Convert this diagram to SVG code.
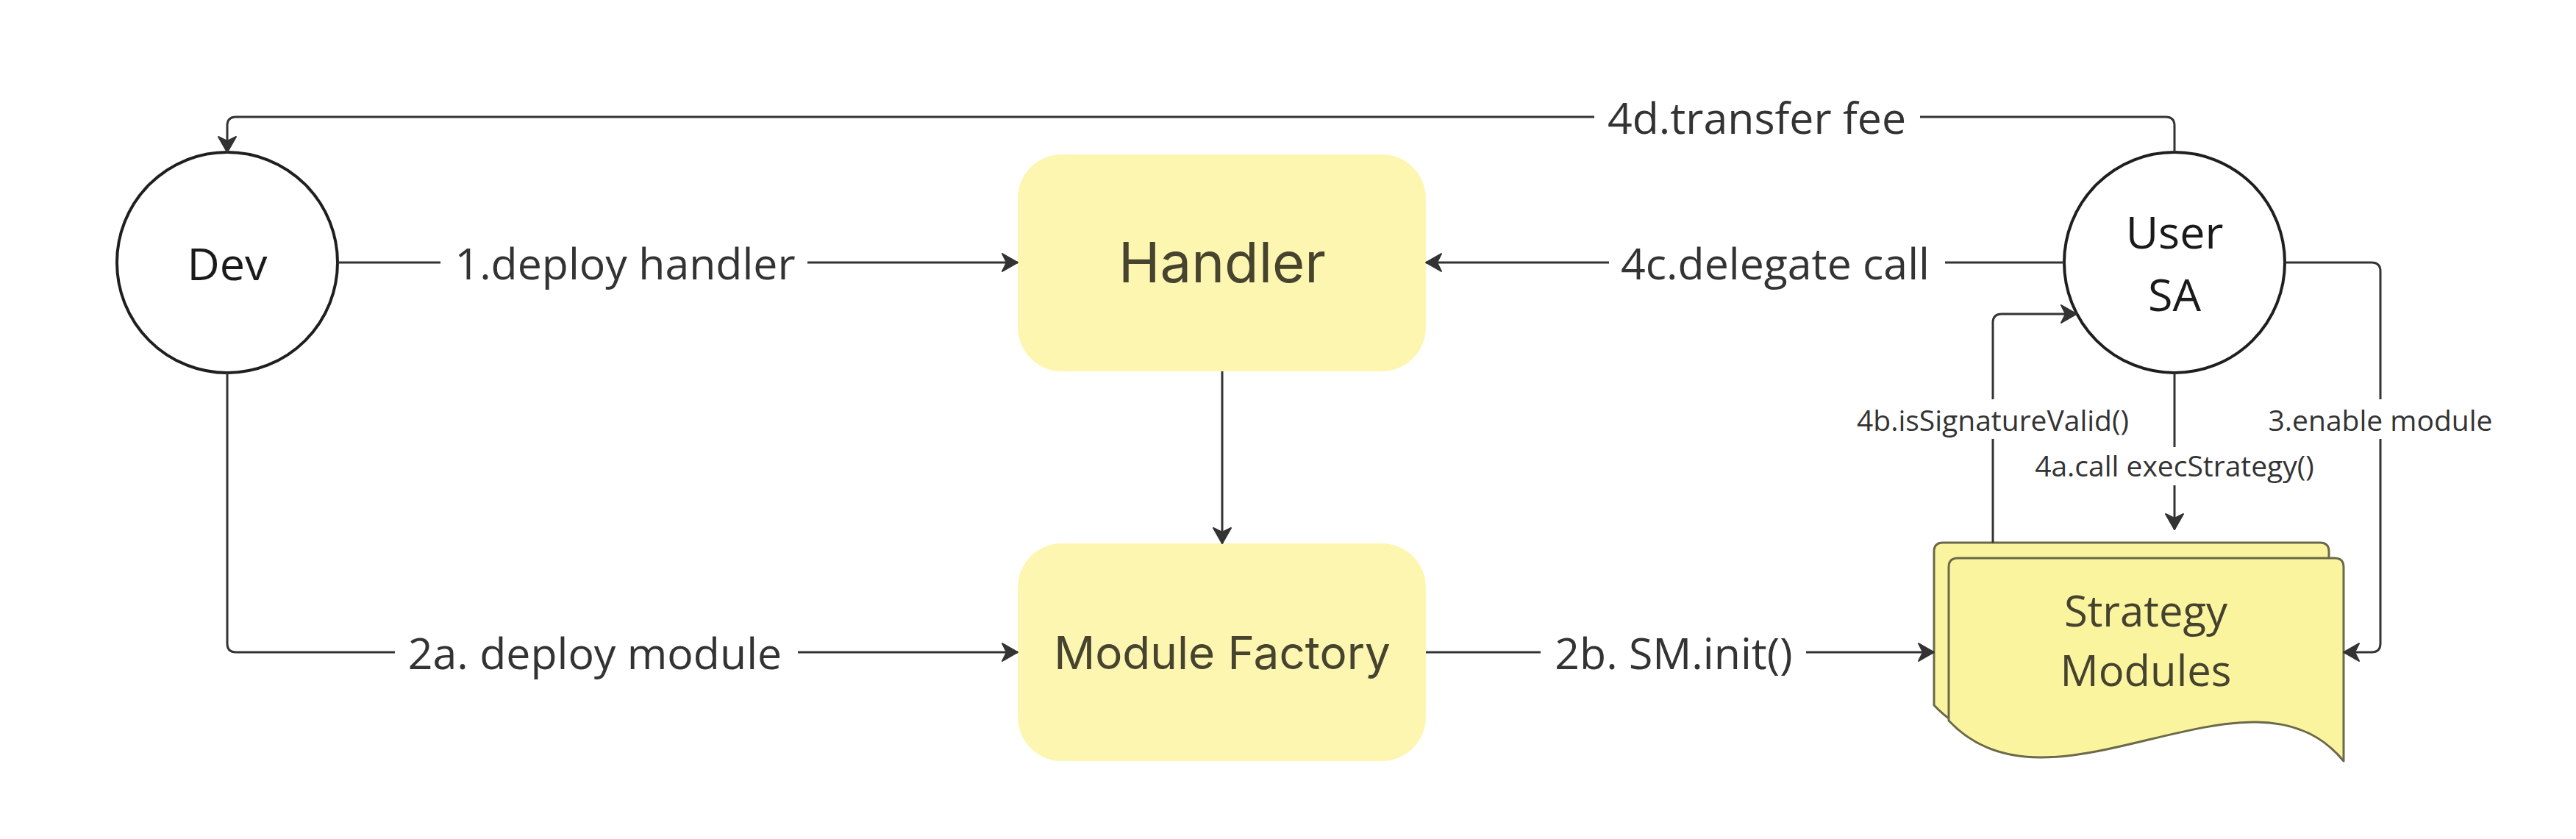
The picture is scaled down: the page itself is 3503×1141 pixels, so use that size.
<svg xmlns="http://www.w3.org/2000/svg" width="3503" height="1141" viewBox="0 0 3503 1141">
  <style>
    .conn { fill: none; stroke: #333333; stroke-width: 3; stroke-linejoin: round; }
    .lbl { font-family: "Open Sans", "Liberation Sans", sans-serif; fill: #333333; text-anchor: middle; }
    .big { font-size: 59px; }
    .small { font-size: 39px; }
    .circ { fill: #ffffff; stroke: #1f1f1f; stroke-width: 4; }
    .ctext { font-family: "Open Sans", "Liberation Sans", sans-serif; font-size: 61px; fill: #1a1a1a; text-anchor: middle; }
    .box { fill: #fdf6b1; }
    .btext { font-family: Inter, "Liberation Sans", sans-serif; fill: #46432f; text-anchor: middle; }
    .doc { fill: #fbf49f; stroke: #6b6949; stroke-width: 3; stroke-linejoin: round; }
    .dtext { font-family: "Open Sans", "Liberation Sans", sans-serif; font-size: 58px; fill: #45432f; text-anchor: middle; }
  </style>
  <defs>
    <marker id="arrow" markerUnits="userSpaceOnUse" markerWidth="26" markerHeight="28" refX="23" refY="14" orient="auto" viewBox="0 0 26 28">
      <path d="M2,2 L23,14 L2,26 L8,14 Z" fill="#333333" stroke="#333333" stroke-width="2" stroke-linejoin="round"/>
    </marker>
  </defs>
  <rect width="3503" height="1141" fill="#ffffff"/>

  <g id="dev">
    <circle class="circ" cx="309" cy="357" r="150"/>
    <text class="ctext" x="309" y="381">Dev</text>
  </g>

  <g id="handler">
    <rect class="box" x="1384" y="210" width="555" height="295" rx="60" ry="60"/>
    <text class="btext" x="1662" y="384" font-size="76">Handler</text>
  </g>

  <g id="module-factory">
    <rect class="box" x="1384" y="739" width="555" height="296" rx="60" ry="60"/>
    <text class="btext" x="1662" y="910" font-size="62">Module Factory</text>
  </g>

  <g id="user-sa">
    <circle class="circ" cx="2957" cy="357" r="150"/>
    <text class="ctext" x="2957" y="338">User</text>
    <text class="ctext" x="2957" y="423">SA</text>
  </g>

  <g id="strategy-modules">
    <path class="doc" d="M2630,750 Q2630,738 2642,738 H3155 Q3167,738 3167,750 V1014 C3040,859 2770,1109 2630,959 Z"/>
    <path class="doc" d="M2650,771 Q2650,759 2662,759 H3175 Q3187,759 3187,771 V1035 C3060,880 2790,1130 2650,980 Z"/>
    <text class="dtext" x="2918" y="852">Strategy</text>
    <text class="dtext" x="2918" y="933">Modules</text>
  </g>

  <g id="connectors">
    <!-- 4d.transfer fee -->
    <path class="conn" d="M2957,207 V171 Q2957,159 2945,159 H2611"/>
    <path class="conn" d="M2168,159 H321 Q309,159 309,171 V207" marker-end="url(#arrow)"/>
    <!-- 1.deploy handler -->
    <path class="conn" d="M459,357 H599"/>
    <path class="conn" d="M1098,357 H1384" marker-end="url(#arrow)"/>
    <!-- 4c.delegate call -->
    <path class="conn" d="M2807,357 H2645"/>
    <path class="conn" d="M2188,357 H1939" marker-end="url(#arrow)"/>
    <!-- Handler to Module Factory -->
    <path class="conn" d="M1662,505 V739" marker-end="url(#arrow)"/>
    <!-- 2a. deploy module -->
    <path class="conn" d="M309,507 V875 Q309,887 321,887 H537"/>
    <path class="conn" d="M1085,887 H1384" marker-end="url(#arrow)"/>
    <!-- 2b. SM.init() -->
    <path class="conn" d="M1939,887 H2095"/>
    <path class="conn" d="M2456,887 H2630" marker-end="url(#arrow)"/>
    <!-- 3.enable module -->
    <path class="conn" d="M3107,357 H3225 Q3237,357 3237,369 V543"/>
    <path class="conn" d="M3237,597 V875 Q3237,887 3225,887 H3187" marker-end="url(#arrow)"/>
    <!-- 4b.isSignatureValid() -->
    <path class="conn" d="M2710,738 V597"/>
    <path class="conn" d="M2710,543 V439 Q2710,427 2722,427 H2824" marker-end="url(#arrow)"/>
    <!-- 4a.call execStrategy() -->
    <path class="conn" d="M2957,507 V608"/>
    <path class="conn" d="M2957,660 V720" marker-end="url(#arrow)"/>

    <text class="lbl big" x="2389" y="182">4d.transfer fee</text>
    <text class="lbl big" x="850" y="380">1.deploy handler</text>
    <text class="lbl big" x="2414" y="380">4c.delegate call</text>
    <text class="lbl big" x="809" y="910">2a. deploy module</text>
    <text class="lbl big" x="2276" y="910">2b. SM.init()</text>
    <text class="lbl small" x="2710" y="586">4b.isSignatureValid()</text>
    <text class="lbl small" x="3237" y="586">3.enable module</text>
    <text class="lbl small" x="2957" y="648">4a.call execStrategy()</text>
  </g>
</svg>
